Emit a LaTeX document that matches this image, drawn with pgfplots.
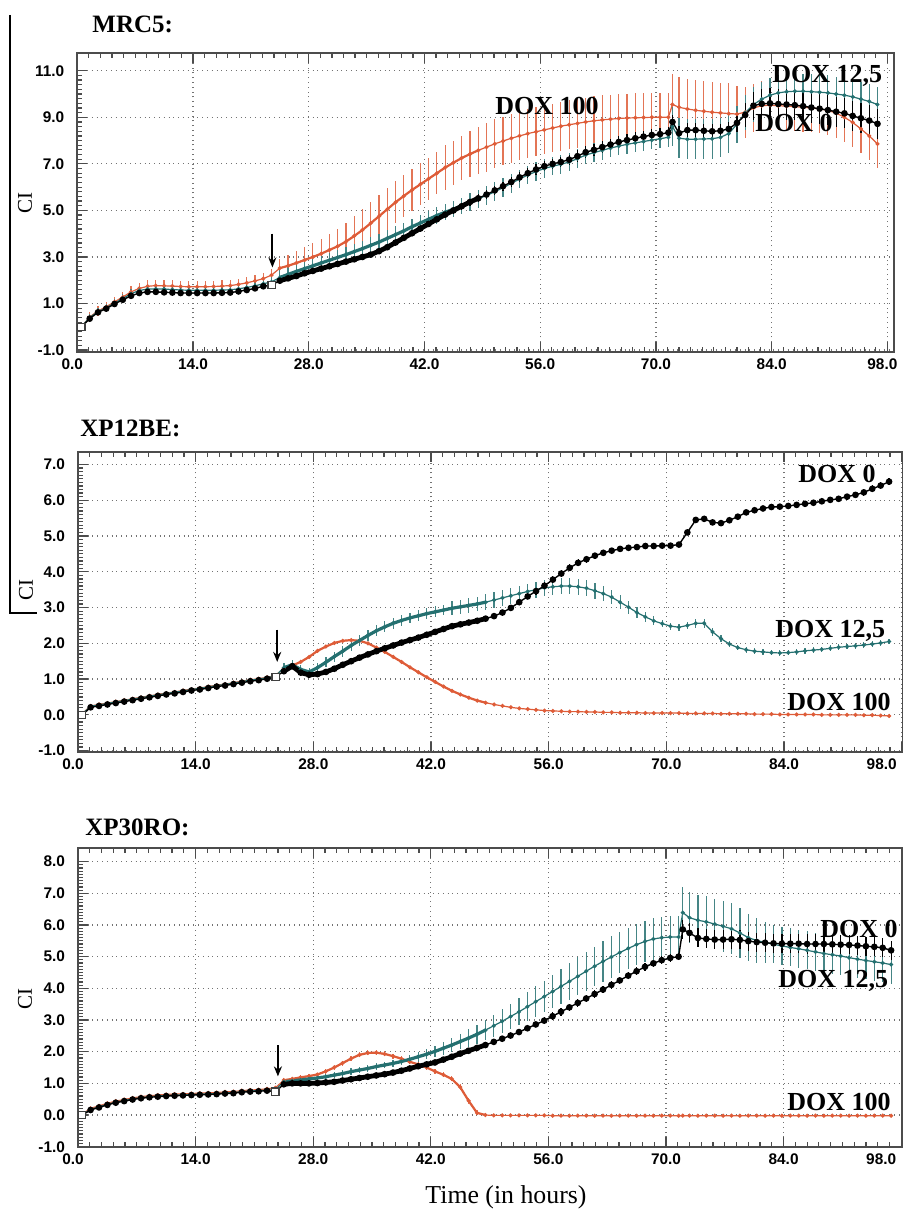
\documentclass[border=0pt]{standalone}
\usepackage{fontspec}
\setmainfont{Liberation Serif}
\setsansfont{Liberation Sans}
\usepackage{pgfplots}
\pgfplotsset{compat=1.18}
\usepackage{pgfplotstable}
\usetikzlibrary{arrows.meta}

\definecolor{doxorange}{RGB}{222,92,56}
\definecolor{doxteal}{RGB}{36,112,112}

% columns: h = time, a = DOX 0, b = DOX 12,5, c = DOX 100 (with errors)
\pgfplotstableread{
h a ae b be c ce
0.5 0.00 0.03 0.00 0.05 0.00 0.05
1.5 0.35 0.05 0.40 0.15 0.42 0.20
2.5 0.62 0.05 0.65 0.15 0.68 0.20
3.5 0.78 0.05 0.82 0.15 0.86 0.20
4.5 0.98 0.06 1.02 0.18 1.07 0.22
5.5 1.16 0.06 1.22 0.18 1.28 0.22
6.5 1.33 0.06 1.42 0.20 1.50 0.25
7.5 1.45 0.06 1.56 0.20 1.65 0.25
8.5 1.50 0.06 1.62 0.20 1.74 0.25
9.5 1.50 0.06 1.63 0.20 1.77 0.25
10.5 1.48 0.06 1.62 0.20 1.76 0.25
11.5 1.47 0.06 1.60 0.20 1.75 0.25
12.5 1.45 0.06 1.58 0.20 1.73 0.25
13.5 1.45 0.06 1.57 0.20 1.72 0.25
14.5 1.45 0.06 1.57 0.20 1.72 0.25
15.5 1.45 0.06 1.57 0.20 1.72 0.25
16.5 1.45 0.06 1.57 0.20 1.73 0.25
17.5 1.46 0.06 1.58 0.20 1.75 0.25
18.5 1.47 0.06 1.59 0.20 1.77 0.25
19.5 1.52 0.06 1.63 0.20 1.82 0.25
20.5 1.58 0.06 1.69 0.20 1.89 0.25
21.5 1.65 0.06 1.76 0.20 1.97 0.25
22.5 1.74 0.06 1.85 0.20 2.07 0.25
23.5 1.80 0.06 1.93 0.20 2.22 0.25
24.5 1.98 0.10 2.12 0.30 2.52 0.40
25.5 2.08 0.10 2.25 0.30 2.62 0.45
26.5 2.18 0.10 2.38 0.30 2.74 0.50
27.5 2.30 0.10 2.50 0.30 2.87 0.55
28.5 2.40 0.10 2.62 0.30 3.00 0.60
29.5 2.50 0.10 2.74 0.30 3.14 0.65
30.5 2.60 0.10 2.86 0.32 3.30 0.70
31.5 2.70 0.10 2.98 0.32 3.46 0.75
32.5 2.80 0.10 3.10 0.32 3.66 0.80
33.5 2.90 0.10 3.23 0.32 3.90 0.85
34.5 3.00 0.10 3.36 0.34 4.16 0.90
35.5 3.10 0.10 3.50 0.34 4.45 0.90
36.5 3.25 0.10 3.64 0.34 4.75 0.90
37.5 3.42 0.10 3.80 0.34 5.05 0.90
38.5 3.62 0.10 3.96 0.35 5.35 0.90
39.5 3.82 0.10 4.12 0.35 5.62 0.90
40.5 4.02 0.12 4.30 0.35 5.88 0.90
41.5 4.22 0.12 4.46 0.35 6.12 0.90
42.5 4.42 0.12 4.62 0.35 6.36 0.90
43.5 4.62 0.12 4.78 0.35 6.60 0.90
44.5 4.82 0.12 4.92 0.35 6.84 0.95
45.5 5.00 0.15 5.05 0.35 7.05 0.95
46.5 5.18 0.15 5.20 0.35 7.25 0.95
47.5 5.36 0.15 5.36 0.38 7.42 1.00
48.5 5.52 0.18 5.50 0.38 7.58 1.00
49.5 5.68 0.20 5.64 0.40 7.72 1.05
50.5 5.86 0.20 5.80 0.40 7.86 1.05
51.5 6.04 0.20 5.98 0.40 7.98 1.05
52.5 6.22 0.22 6.16 0.40 8.10 1.05
53.5 6.42 0.22 6.35 0.40 8.20 1.05
54.5 6.60 0.22 6.52 0.40 8.30 1.05
55.5 6.76 0.22 6.67 0.40 8.38 1.05
56.5 6.90 0.22 6.80 0.40 8.46 1.05
57.5 7.00 0.22 6.90 0.40 8.54 1.05
58.5 7.08 0.22 6.98 0.40 8.62 1.05
59.5 7.18 0.22 7.08 0.40 8.68 1.05
60.5 7.33 0.25 7.22 0.40 8.74 1.05
61.5 7.50 0.25 7.38 0.40 8.80 1.05
62.5 7.60 0.25 7.48 0.40 8.85 1.05
63.5 7.72 0.25 7.58 0.40 8.89 1.05
64.5 7.83 0.25 7.68 0.40 8.92 1.05
65.5 7.94 0.25 7.76 0.40 8.95 1.05
66.5 8.02 0.25 7.84 0.40 8.97 1.05
67.5 8.10 0.25 7.90 0.40 8.98 1.05
68.5 8.17 0.25 7.96 0.40 8.99 1.05
69.5 8.24 0.25 8.02 0.40 9.00 1.05
70.5 8.28 0.25 8.08 0.40 9.00 1.05
71.5 8.34 0.25 8.14 0.40 9.00 1.05
72.0 8.80 0.30 8.60 0.85 9.55 1.30
72.8 8.32 0.30 8.10 0.85 9.43 1.30
73.8 8.45 0.30 8.06 0.85 9.36 1.30
74.8 8.45 0.30 8.06 0.85 9.30 1.30
75.8 8.42 0.30 8.07 0.85 9.26 1.30
76.8 8.40 0.30 8.08 0.85 9.22 1.30
77.8 8.42 0.30 8.14 0.85 9.19 1.30
78.8 8.50 0.30 8.30 0.85 9.16 1.30
79.8 8.76 0.40 8.70 0.80 9.14 1.20
80.8 9.10 0.50 9.20 0.75 9.22 1.10
81.8 9.50 0.60 9.55 0.75 9.40 1.05
82.8 9.58 0.65 9.78 0.75 9.50 1.05
83.8 9.60 0.65 9.95 0.75 9.52 1.05
84.8 9.57 0.65 10.05 0.75 9.50 1.05
85.8 9.55 0.65 10.10 0.75 9.48 1.05
86.8 9.52 0.65 10.12 0.75 9.46 1.05
87.8 9.48 0.65 10.12 0.75 9.43 1.05
88.8 9.42 0.65 10.10 0.75 9.40 1.05
89.8 9.37 0.65 10.08 0.75 9.36 1.05
90.8 9.31 0.65 10.05 0.75 9.30 1.05
91.8 9.24 0.65 10.00 0.75 9.18 1.05
92.8 9.17 0.65 9.95 0.75 9.00 1.05
93.8 9.06 0.65 9.88 0.75 8.78 1.05
94.8 8.96 0.65 9.78 0.75 8.50 1.05
95.8 8.86 0.65 9.68 0.75 8.20 1.05
96.8 8.72 0.65 9.55 0.75 7.86 1.05
}\mrcfive

\pgfplotstableread{
h a ae b be c ce
0.5 0.00 0.03 0.02 0.04 0.03 0.03
1.5 0.21 0.04 0.24 0.05 0.25 0.03
2.5 0.25 0.04 0.28 0.05 0.29 0.03
3.5 0.29 0.04 0.32 0.05 0.33 0.03
4.5 0.33 0.04 0.36 0.05 0.37 0.03
5.5 0.37 0.04 0.40 0.05 0.41 0.03
6.5 0.41 0.04 0.44 0.05 0.45 0.03
7.5 0.45 0.04 0.48 0.05 0.49 0.03
8.5 0.49 0.04 0.52 0.05 0.53 0.03
9.5 0.53 0.04 0.56 0.05 0.57 0.03
10.5 0.57 0.04 0.60 0.05 0.61 0.03
11.5 0.60 0.04 0.63 0.05 0.64 0.03
12.5 0.64 0.04 0.67 0.05 0.68 0.03
13.5 0.68 0.04 0.71 0.05 0.72 0.03
14.5 0.71 0.04 0.74 0.05 0.75 0.03
15.5 0.75 0.04 0.78 0.05 0.79 0.03
16.5 0.79 0.04 0.82 0.05 0.83 0.03
17.5 0.82 0.04 0.85 0.05 0.86 0.03
18.5 0.86 0.04 0.89 0.05 0.90 0.03
19.5 0.90 0.04 0.93 0.05 0.94 0.03
20.5 0.94 0.04 0.97 0.05 0.98 0.03
21.5 0.97 0.04 1.00 0.05 1.01 0.03
22.5 1.01 0.04 1.04 0.05 1.05 0.03
23.5 1.06 0.04 1.09 0.05 1.10 0.03
24.5 1.22 0.05 1.32 0.12 1.31 0.03
25.5 1.36 0.05 1.40 0.12 1.38 0.03
26.5 1.18 0.05 1.27 0.12 1.48 0.03
27.5 1.12 0.05 1.20 0.12 1.62 0.03
28.5 1.14 0.05 1.32 0.14 1.79 0.03
29.5 1.20 0.05 1.47 0.14 1.91 0.03
30.5 1.29 0.05 1.63 0.14 2.01 0.03
31.5 1.40 0.05 1.78 0.15 2.07 0.03
32.5 1.50 0.05 1.94 0.15 2.09 0.03
33.5 1.60 0.05 2.08 0.15 2.07 0.03
34.5 1.69 0.05 2.22 0.15 2.00 0.03
35.5 1.78 0.05 2.35 0.15 1.88 0.03
36.5 1.86 0.05 2.46 0.15 1.76 0.03
37.5 1.94 0.05 2.56 0.15 1.62 0.03
38.5 2.02 0.05 2.64 0.15 1.48 0.03
39.5 2.09 0.05 2.71 0.15 1.33 0.03
40.5 2.16 0.05 2.77 0.15 1.19 0.03
41.5 2.24 0.05 2.83 0.15 1.05 0.03
42.5 2.32 0.05 2.88 0.15 0.92 0.03
43.5 2.40 0.05 2.93 0.15 0.79 0.03
44.5 2.48 0.06 2.98 0.20 0.67 0.03
45.5 2.53 0.06 3.02 0.20 0.57 0.03
46.5 2.58 0.06 3.06 0.20 0.48 0.03
47.5 2.63 0.06 3.10 0.20 0.40 0.03
48.5 2.69 0.08 3.15 0.22 0.34 0.03
49.5 2.76 0.08 3.21 0.22 0.29 0.03
50.5 2.86 0.08 3.27 0.22 0.25 0.03
51.5 2.99 0.08 3.33 0.22 0.21 0.03
52.5 3.15 0.08 3.39 0.22 0.18 0.03
53.5 3.31 0.08 3.45 0.22 0.16 0.03
54.5 3.46 0.10 3.50 0.22 0.14 0.03
55.5 3.61 0.10 3.55 0.22 0.12 0.03
56.5 3.78 0.10 3.58 0.22 0.11 0.03
57.5 3.95 0.10 3.60 0.22 0.10 0.03
58.5 4.11 0.10 3.60 0.22 0.09 0.03
59.5 4.25 0.10 3.58 0.22 0.09 0.03
60.5 4.35 0.10 3.54 0.22 0.08 0.03
61.5 4.45 0.08 3.47 0.22 0.08 0.03
62.5 4.53 0.08 3.39 0.22 0.07 0.03
63.5 4.59 0.08 3.29 0.20 0.07 0.03
64.5 4.64 0.08 3.15 0.20 0.06 0.03
65.5 4.67 0.08 3.01 0.18 0.06 0.03
66.5 4.69 0.08 2.86 0.16 0.06 0.03
67.5 4.72 0.08 2.74 0.14 0.05 0.03
68.5 4.72 0.08 2.63 0.12 0.05 0.03
69.5 4.73 0.08 2.55 0.10 0.05 0.03
70.5 4.73 0.08 2.48 0.10 0.05 0.03
71.5 4.76 0.08 2.45 0.10 0.05 0.03
72.5 5.10 0.08 2.50 0.10 0.04 0.03
73.5 5.45 0.08 2.56 0.12 0.04 0.03
74.5 5.48 0.08 2.56 0.12 0.04 0.03
75.5 5.38 0.08 2.32 0.12 0.04 0.03
76.5 5.36 0.08 2.13 0.10 0.03 0.03
77.5 5.44 0.08 1.98 0.08 0.03 0.03
78.5 5.54 0.08 1.88 0.08 0.03 0.03
79.5 5.66 0.08 1.82 0.08 0.03 0.03
80.5 5.72 0.08 1.78 0.08 0.02 0.03
81.5 5.77 0.08 1.76 0.08 0.02 0.03
82.5 5.81 0.08 1.74 0.08 0.02 0.03
83.5 5.82 0.08 1.73 0.08 0.01 0.03
84.5 5.84 0.08 1.74 0.08 0.01 0.03
85.5 5.87 0.08 1.76 0.08 0.01 0.03
86.5 5.90 0.08 1.79 0.08 0.01 0.03
87.5 5.93 0.08 1.81 0.08 0.01 0.03
88.5 5.97 0.08 1.83 0.08 0.00 0.03
89.5 6.01 0.08 1.86 0.08 0.00 0.03
90.5 6.04 0.08 1.89 0.08 0.00 0.03
91.5 6.10 0.08 1.91 0.08 0.00 0.03
92.5 6.15 0.08 1.93 0.08 0.00 0.03
93.5 6.22 0.10 1.95 0.08 -0.01 0.03
94.5 6.32 0.10 1.98 0.08 -0.01 0.03
95.5 6.41 0.10 2.01 0.08 -0.02 0.03
96.5 6.52 0.10 2.05 0.08 -0.03 0.03
}\xptwelve

\pgfplotstableread{
h a ae b be c ce
0.5 0.00 0.03 0.01 0.04 0.03 0.04
1.5 0.16 0.04 0.18 0.05 0.21 0.05
2.5 0.24 0.04 0.26 0.05 0.29 0.05
3.5 0.32 0.04 0.34 0.05 0.37 0.05
4.5 0.39 0.04 0.41 0.05 0.44 0.05
5.5 0.44 0.04 0.46 0.05 0.49 0.05
6.5 0.49 0.04 0.51 0.05 0.54 0.05
7.5 0.53 0.04 0.55 0.05 0.58 0.05
8.5 0.56 0.04 0.58 0.05 0.61 0.05
9.5 0.58 0.04 0.60 0.05 0.63 0.05
10.5 0.60 0.04 0.62 0.05 0.65 0.05
11.5 0.61 0.04 0.63 0.05 0.66 0.05
12.5 0.62 0.04 0.64 0.05 0.67 0.05
13.5 0.63 0.04 0.65 0.05 0.68 0.05
14.5 0.64 0.04 0.66 0.05 0.69 0.05
15.5 0.65 0.04 0.67 0.05 0.70 0.05
16.5 0.66 0.04 0.68 0.05 0.71 0.05
17.5 0.68 0.04 0.70 0.05 0.73 0.05
18.5 0.69 0.04 0.71 0.05 0.74 0.05
19.5 0.72 0.04 0.74 0.05 0.77 0.05
20.5 0.74 0.04 0.76 0.05 0.79 0.05
21.5 0.75 0.04 0.77 0.05 0.80 0.05
22.5 0.77 0.04 0.79 0.05 0.83 0.05
23.5 0.74 0.04 0.80 0.05 0.86 0.05
24.5 0.97 0.06 1.05 0.10 1.10 0.06
25.5 1.00 0.06 1.08 0.10 1.14 0.06
26.5 1.00 0.06 1.11 0.10 1.19 0.06
27.5 1.00 0.06 1.14 0.10 1.23 0.06
28.5 1.01 0.06 1.17 0.10 1.28 0.06
29.5 1.03 0.06 1.21 0.10 1.38 0.08
30.5 1.05 0.06 1.26 0.10 1.50 0.08
31.5 1.09 0.06 1.31 0.10 1.64 0.08
32.5 1.13 0.06 1.37 0.10 1.78 0.08
33.5 1.17 0.06 1.42 0.10 1.90 0.08
34.5 1.21 0.06 1.47 0.10 1.96 0.08
35.5 1.25 0.06 1.53 0.10 1.97 0.08
36.5 1.29 0.06 1.58 0.10 1.93 0.08
37.5 1.34 0.06 1.63 0.12 1.86 0.08
38.5 1.40 0.06 1.69 0.12 1.78 0.08
39.5 1.47 0.06 1.76 0.12 1.68 0.08
40.5 1.54 0.06 1.84 0.15 1.60 0.08
41.5 1.60 0.06 1.92 0.15 1.50 0.08
42.5 1.66 0.06 2.01 0.18 1.38 0.08
43.5 1.75 0.06 2.11 0.20 1.27 0.08
44.5 1.84 0.06 2.21 0.22 1.14 0.08
45.5 1.94 0.06 2.32 0.25 0.88 0.10
46.5 2.03 0.06 2.43 0.28 0.45 0.10
47.5 2.12 0.06 2.55 0.30 0.07 0.08
48.5 2.21 0.06 2.68 0.32 0.00 0.04
49.5 2.31 0.06 2.82 0.35 -0.01 0.04
50.5 2.41 0.06 2.96 0.38 -0.01 0.04
51.5 2.51 0.08 3.11 0.40 -0.01 0.04
52.5 2.62 0.08 3.26 0.42 -0.01 0.04
53.5 2.74 0.08 3.42 0.45 -0.01 0.04
54.5 2.86 0.08 3.58 0.48 -0.01 0.04
55.5 2.98 0.10 3.74 0.50 -0.01 0.04
56.5 3.12 0.12 3.90 0.52 -0.02 0.04
57.5 3.26 0.12 4.06 0.55 -0.02 0.04
58.5 3.40 0.12 4.22 0.58 -0.02 0.04
59.5 3.54 0.12 4.38 0.60 -0.02 0.04
60.5 3.68 0.12 4.54 0.62 -0.02 0.04
61.5 3.82 0.12 4.70 0.62 -0.02 0.04
62.5 3.96 0.12 4.85 0.65 -0.02 0.04
63.5 4.11 0.12 4.99 0.65 -0.02 0.04
64.5 4.25 0.12 5.13 0.65 -0.02 0.04
65.5 4.40 0.12 5.26 0.65 -0.02 0.04
66.5 4.54 0.12 5.38 0.65 -0.02 0.04
67.5 4.68 0.12 5.48 0.65 -0.02 0.04
68.5 4.79 0.12 5.56 0.65 -0.02 0.04
69.5 4.89 0.12 5.60 0.65 -0.02 0.04
70.5 4.96 0.12 5.62 0.65 -0.02 0.04
71.5 5.00 0.12 5.62 0.65 -0.02 0.04
72.0 5.86 0.30 6.39 0.80 -0.02 0.04
72.8 5.75 0.30 6.23 0.80 -0.02 0.04
73.8 5.59 0.30 6.15 0.80 -0.02 0.04
74.8 5.56 0.30 6.10 0.80 -0.02 0.04
75.8 5.54 0.30 6.03 0.80 -0.02 0.04
76.8 5.54 0.30 5.96 0.80 -0.02 0.04
77.8 5.55 0.30 5.88 0.80 -0.02 0.04
78.8 5.53 0.30 5.75 0.80 -0.02 0.04
79.8 5.49 0.30 5.60 0.75 -0.02 0.04
80.8 5.46 0.30 5.51 0.70 -0.02 0.04
81.8 5.44 0.30 5.45 0.65 -0.02 0.04
82.8 5.42 0.30 5.39 0.60 -0.02 0.04
83.8 5.41 0.30 5.34 0.60 -0.02 0.04
84.8 5.41 0.30 5.29 0.60 -0.02 0.04
85.8 5.41 0.30 5.25 0.60 -0.02 0.04
86.8 5.40 0.30 5.20 0.60 -0.02 0.04
87.8 5.40 0.30 5.15 0.60 -0.02 0.04
88.8 5.40 0.30 5.10 0.60 -0.02 0.04
89.8 5.39 0.30 5.06 0.60 -0.02 0.04
90.8 5.38 0.30 5.02 0.60 -0.02 0.04
91.8 5.37 0.30 4.97 0.60 -0.02 0.04
92.8 5.35 0.30 4.92 0.60 -0.02 0.04
93.8 5.33 0.30 4.88 0.60 -0.02 0.04
94.8 5.31 0.30 4.84 0.60 -0.02 0.04
95.8 5.28 0.30 4.80 0.60 -0.02 0.04
96.8 5.20 0.30 4.75 0.60 -0.02 0.04
}\xpthirty

\pgfplotsset{
  rtca/.style={
    scale only axis, anchor=north west,
    xmin=0, xtick={0,14,...,98},
    minor x tick num=9, minor y tick num=9,
    xtick pos=both, xticklabel pos=lower, ytick pos=left,
    tick align=inside, major tick length=5pt, minor tick length=2.5pt,
    grid=major,
    major grid style={dotted, black!55, line width=0.6pt},
    axis line style={black!70, line width=0.9pt},
    tick style={black!70, line width=0.6pt},
    tick label style={font=\sffamily\bfseries\fontsize{7.7}{8}\selectfont},
    yticklabel style={xshift=-3pt},
    /pgf/number format/fixed, /pgf/number format/fixed zerofill,
    /pgf/number format/precision=1, /pgf/number format/assume math mode=true,
    % first and last time labels sit a little left of their ticks
    xticklabel={\ifnum\ticknum=0 \makebox[0pt]{\hspace*{-5pt}\pgfmathprintnumber{\tick}}%
      \else\ifnum\ticknum=7 \makebox[0pt]{\hspace*{#1}\pgfmathprintnumber{\tick}}%
      \else\pgfmathprintnumber{\tick}\fi\fi},
  },
  errs/.style={error bars/y dir=both, error bars/y explicit,
    error bars/error mark=none,
    error bars/error bar style={#1, line width=0.6pt}},
  dox0/.style={black, line width=0.7pt, mark=*, mark size=1.3pt,
    mark options={solid}, errs=black},
  dox12/.style={doxteal, line width=0.6pt, mark=*, mark size=0.7pt,
    mark options={solid}, errs=doxteal!85},
  dox100/.style={doxorange, line width=0.6pt, mark=*, mark size=0.7pt,
    mark options={solid}, errs=doxorange!85},
  dense/.style={#1, line width=2.4pt, no marks, forget plot,
    restrict x to domain=24:48.6},
  start/.style={only marks, mark=square*, mark size=1.8pt,
    mark options={fill=white, draw=black!75, line width=0.6pt}, forget plot},
}

\begin{document}
\begin{tikzpicture}
\path[use as bounding box] (0pt,0pt) rectangle (452pt,-606.5pt);

% MRC5
\begin{axis}[rtca=-5pt, at={(38.65pt,-26.65pt)}, width=408.35pt, height=149.2pt,
  xmax=98.8, ymin=-1.07, ymax=11.75, ytick={-1,1,...,11}]
\addplot[dox100] table[x=h, y=c, y error=ce]{\mrcfive};
\addplot[dense=doxorange, line width=1.1pt] table[x=h, y=c]{\mrcfive};
\addplot[dox12] table[x=h, y=b, y error=be]{\mrcfive};
\addplot[dense=doxteal, line width=1.6pt] table[x=h, y=b]{\mrcfive};
\addplot[dox0] table[x=h, y=a, y error=ae]{\mrcfive};
\addplot[dense=black] table[x=h, y=a]{\mrcfive};
\addplot[start] coordinates {(0.5,0.00) (23.5,1.80)};
\draw[-{Stealth[length=5pt,width=4pt]}, line width=0.9pt] (axis cs:23.6,4.0) -- (axis cs:23.6,2.55);
\end{axis}

% XP12BE
\begin{axis}[rtca=-20pt, at={(39pt,-226.15pt)}, width=412.25pt, height=149.7pt,
  xmax=98.1, ymin=-1.03, ymax=7.34, ytick={-1,0,...,7}]
\addplot[dox100] table[x=h, y=c, y error=ce]{\xptwelve};
\addplot[dense=doxorange, line width=1.1pt] table[x=h, y=c]{\xptwelve};
\addplot[dox12] table[x=h, y=b, y error=be]{\xptwelve};
\addplot[dense=doxteal, line width=1.6pt] table[x=h, y=b]{\xptwelve};
\addplot[dox0] table[x=h, y=a, y error=ae]{\xptwelve};
\addplot[dense=black] table[x=h, y=a]{\xptwelve};
\addplot[start] coordinates {(0.5,0.00) (23.5,1.06)};
\draw[-{Stealth[length=5pt,width=4pt]}, line width=0.9pt] (axis cs:23.7,2.38) -- (axis cs:23.7,1.48);
\end{axis}

% XP30RO
\begin{axis}[rtca=-20pt, at={(39pt,-423.85pt)}, width=412pt, height=149.5pt,
  xmax=98.1, ymin=-1.0, ymax=8.44, ytick={-1,0,...,8}]
\addplot[dox100] table[x=h, y=c, y error=ce]{\xpthirty};
\addplot[dense=doxorange, line width=1.1pt] table[x=h, y=c]{\xpthirty};
\addplot[dox12] table[x=h, y=b, y error=be]{\xpthirty};
\addplot[dense=doxteal, line width=1.6pt] table[x=h, y=b]{\xpthirty};
\addplot[dox0] table[x=h, y=a, y error=ae]{\xpthirty};
\addplot[dense=black] table[x=h, y=a]{\xpthirty};
\addplot[start] coordinates {(0.5,0.00) (23.5,0.74)};
\draw[-{Stealth[length=5pt,width=4pt]}, line width=0.9pt] (axis cs:23.8,2.21) -- (axis cs:23.8,1.22);
\end{axis}

\begin{scope}[x=0.5pt, y=-0.5pt]
\draw[line width=0.7pt] (10,15) -- (10,613) -- (37,613);
\begin{scope}[font=\bfseries\fontsize{12.5}{14}\selectfont]
\node[anchor=base west, inner sep=0pt] at (92,33) {MRC5:};
\node[anchor=base west, inner sep=0pt] at (80,437) {XP12BE:};
\node[anchor=base west, inner sep=0pt] at (85,835) {XP30RO:};
\end{scope}
\begin{scope}[font=\bfseries\fontsize{13}{15}\selectfont]
\node[anchor=base west, inner sep=0pt] at (772,83) {DOX 12,5};
\node[anchor=base west, inner sep=0pt] at (495,115) {DOX 100};
\node[anchor=base west, inner sep=0pt] at (755,132) {DOX 0};
\node[anchor=base west, inner sep=0pt] at (798,482) {DOX 0};
\node[anchor=base west, inner sep=0pt] at (775,637) {DOX 12,5};
\node[anchor=base west, inner sep=0pt] at (787,710) {DOX 100};
\node[anchor=base west, inner sep=0pt] at (820,937) {DOX 0};
\node[anchor=base west, inner sep=0pt] at (778,987) {DOX 12,5};
\node[anchor=base west, inner sep=0pt] at (787,1110) {DOX 100};
\end{scope}
\begin{scope}[font=\fontsize{10.5}{12}\selectfont]
\node[rotate=90] at (25,203) {CI};
\node[rotate=90] at (26,590) {CI};
\node[rotate=90] at (25,999) {CI};
\end{scope}
\node[font=\fontsize{12.9}{14}\selectfont] at (506,1197) {Time (in hours)};
\end{scope}
\end{tikzpicture}
\end{document}
